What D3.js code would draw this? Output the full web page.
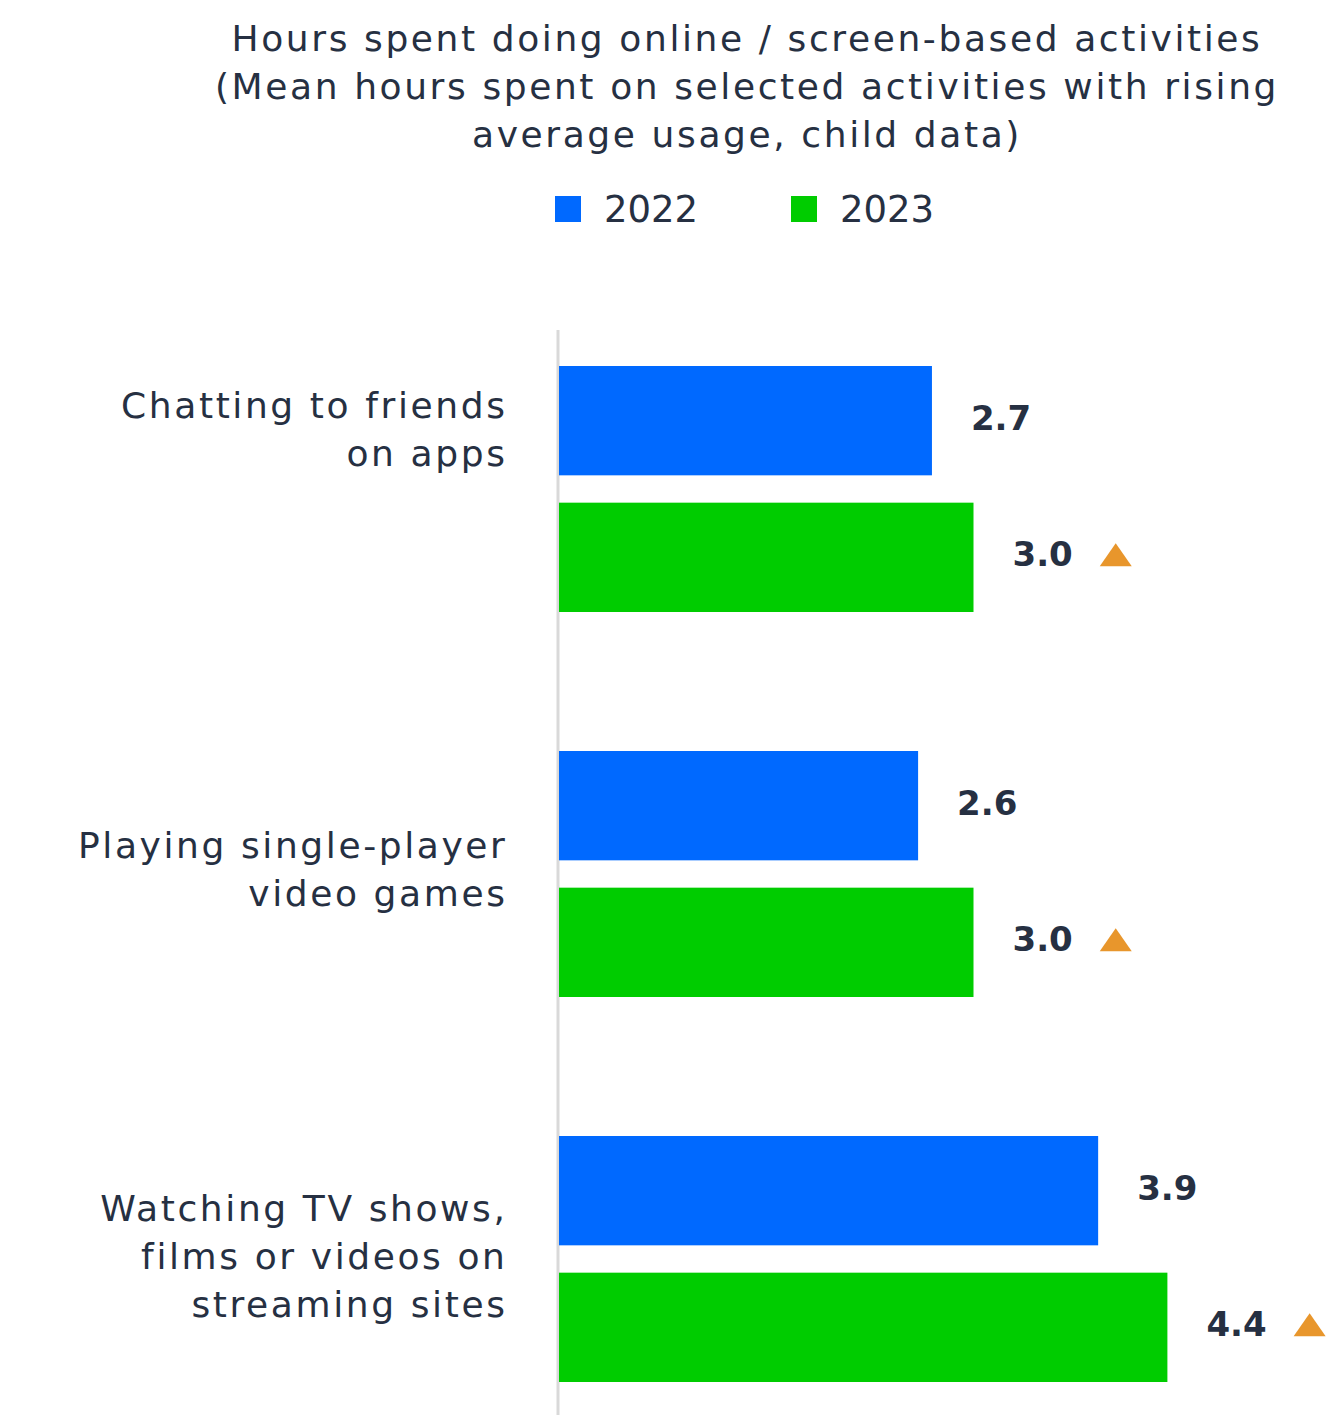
<!DOCTYPE html>
<html>
<head>
<meta charset="utf-8">
<script src="https://cdn.jsdelivr.net/npm/d3@7"></script>
<style>
  html, body { margin: 0; padding: 0; background: #ffffff; }
  svg { display: block; }
  text { font-family: "DejaVu Sans", "Open Sans", sans-serif; fill: #263042; }
</style>
</head>
<body>
<svg id="chart" width="1333" height="1415"></svg>
<script>
// Activities (category labels, with manual line breaks)
const categories = [
  ["Chatting to friends", "on apps"],
  ["Playing single-player", "video games"],
  ["Watching TV shows,", "films or videos on", "streaming sites"]
];
const seriesNames = ["2022", "2023"];
const values2022 = [2.7, 2.6, 3.9];
const values2023 = [3.0, 3.0, 4.4];
const risingFlags = [true, true, true];   // significant increase markers on 2023
const titleLines = [
  "Hours spent doing online / screen-based activities",
  "(Mean hours spent on selected activities with rising",
  "average usage, child data)"
];

const colors = { "2022": "#0069ff", "2023": "#00cc00" };
const arrowColor = "#e8962c";

const svg = d3.select("#chart");
const W = 1333, H = 1415;

// Title
svg.append("g").selectAll("text").data(titleLines).join("text")
  .attr("x", 747).attr("y", (d, i) => 51 + i * 48)
  .attr("text-anchor", "middle")
  .style("font-size", "36px")
  .style("letter-spacing", "2.6px")
  .text(d => d);

// Legend
const legend = svg.append("g");
const legendX = d3.scalePoint().domain(seriesNames).range([555, 791]);
const lg = legend.selectAll("g").data(seriesNames).join("g")
  .attr("transform", d => `translate(${legendX(d)},196)`);
lg.append("rect").attr("width", 26).attr("height", 26).attr("fill", d => colors[d]);
lg.append("text").attr("x", 49).attr("y", 26).style("font-size", "37px").text(d => d);

// Scales
const x0 = 558;
const x = d3.scaleLinear().domain([0, 4.4]).range([x0, x0 + 4.4 * 138.5]);
const step = 385;
const y = d3.scaleBand().domain(d3.range(categories.length))
  .range([329, 329 + step * categories.length]).paddingInner(0).paddingOuter(0);
const inner = d3.scaleBand().domain(seriesNames).range([37, 283]).paddingInner(0.2).paddingOuter(0);

const rows = categories.map((c, i) => ({
  i, label: c,
  bars: [
    { key: "2022", v: values2022[i], rise: false },
    { key: "2023", v: values2023[i], rise: risingFlags[i] }
  ]
}));

// Vertical baseline
svg.append("line")
  .attr("x1", x0).attr("x2", x0).attr("y1", 330).attr("y2", H)
  .attr("stroke", "#d9d9d9").attr("stroke-width", 3);

const g = svg.append("g").selectAll("g").data(rows).join("g")
  .attr("transform", d => `translate(0,${y(d.i)})`);

// Category labels
const labelShift = [-60, -5, -3];
g.each(function (d) {
  const n = d.label.length;
  const cy = inner.range()[0] + (inner.range()[1] - inner.range()[0]) / 2 + labelShift[d.i];
  d3.select(this).append("g").selectAll("text").data(d.label).join("text")
    .attr("x", 507.5)
    .attr("y", (t, k) => cy + (k - (n - 1) / 2) * 48)
    .attr("dy", "0.35em")
    .attr("text-anchor", "end")
    .style("font-size", "36px")
    .style("letter-spacing", "2.6px")
    .text(t => t);
});

// Bars
const bar = g.selectAll("g.bar").data(d => d.bars).join("g").attr("class", "bar");
bar.append("rect")
  .attr("x", x0 + 1)
  .attr("y", b => inner(b.key))
  .attr("width", b => x(b.v) - x0 - 1)
  .attr("height", inner.bandwidth())
  .attr("fill", b => colors[b.key]);

// Value labels
bar.append("text")
  .attr("class", "val")
  .attr("x", b => x(b.v) + 39)
  .attr("y", b => inner(b.key) + inner.bandwidth() / 2 - 3)
  .attr("dy", "0.35em")
  .style("font-size", "34px")
  .style("font-weight", "700")
  .text(b => d3.format(".1f")(b.v));

// Rising markers
bar.filter(b => b.rise).each(function (b) {
  const t = d3.select(this).select("text.val").node();
  const bb = t.getBBox();
  const tx = bb.x + bb.width + 27;
  const cy = inner(b.key) + inner.bandwidth() / 2 - 2;
  d3.select(this).append("path")
    .attr("d", `M${tx},${cy + 11}L${tx + 32},${cy + 11}L${tx + 16},${cy - 12}Z`)
    .attr("fill", arrowColor);
});
</script>
</body>
</html>
